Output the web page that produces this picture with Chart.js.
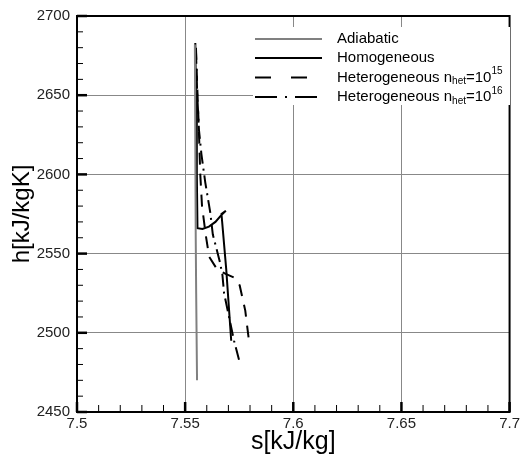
<!DOCTYPE html>
<html>
<head>
<meta charset="utf-8">
<script src="https://cdn.jsdelivr.net/npm/chart.js@4.4.0/dist/chart.umd.min.js"></script>
<style>
  body { margin: 0; background: #fff; }
  canvas { display: block; }
</style>
</head>
<body>
<canvas id="hsChart" width="523" height="457"></canvas>
<script>
// axis ticks
const xTicks = [7.5, 7.55, 7.6, 7.65, 7.7];
const xTickLabels = ['7.5', '7.55', '7.6', '7.65', '7.7'];
const yTicks = [2450, 2500, 2550, 2600, 2650, 2700];
const yTickLabels = ['2450', '2500', '2550', '2600', '2650', '2700'];

// series names (_{} = subscript, ^{} = superscript)
const seriesNames = [
  'Adiabatic',
  'Homogeneous',
  'Heterogeneous n_{het}=10^{15}',
  'Heterogeneous n_{het}=10^{16}'
];

// s [kJ/kg] and h values
const sAdiabatic = [7.5545, 7.5549, 7.5551, 7.5555];
const hAdiabatic = [2682, 2560, 2525, 2470];

const sHomogeneous = [7.5547, 7.5551, 7.5554, 7.5557, 7.5580, 7.5610, 7.5640, 7.5665, 7.5688, 7.5668, 7.5690, 7.5713];
const hHomogeneous = [2683, 2640, 2600, 2566, 2565.5, 2567, 2570, 2574, 2577, 2575, 2540, 2495];

const sHet15 = [7.5550, 7.5556, 7.5563, 7.5570, 7.5578, 7.5595, 7.5611, 7.5648, 7.5690, 7.5725, 7.5752, 7.5778, 7.5795];
const hHet15 = [2680, 2655, 2630, 2600, 2580, 2562, 2548, 2540, 2537, 2535, 2530, 2514, 2495];

const sHet16 = [7.5550, 7.5556, 7.5564, 7.5575, 7.5593, 7.5616, 7.5628, 7.5645, 7.5660, 7.5672, 7.5680, 7.5726, 7.5749];
const hHet16 = [2678, 2650, 2628, 2613, 2595, 2576, 2562, 2553, 2545, 2537, 2525, 2495, 2483];

const fontFamily = '"Liberation Sans", Arial, sans-serif';

function toPoints(s, h) {
  return s.map((v, i) => ({ x: v, y: h[i] }));
}

function drawRich(ctx, text, x, y) {
  const parts = text.split(/(_\{[^}]*\}|\^\{[^}]*\})/).filter(p => p.length);
  ctx.textBaseline = 'middle';
  ctx.textAlign = 'left';
  let cx = x;
  parts.forEach(p => {
    let t = p, dy = 0, size = 15;
    if (p.startsWith('_{')) { t = p.slice(2, -1); dy = 4; size = 10; }
    else if (p.startsWith('^{')) { t = p.slice(2, -1); dy = -6; size = 10; }
    ctx.font = size + 'px ' + fontFamily;
    ctx.fillText(t, cx, y + dy);
    cx += ctx.measureText(t).width;
  });
}

const decorPlugin = {
  id: 'decor',
  afterDraw(chart) {
    const { ctx, chartArea: a, scales } = chart;
    const xs = scales.x, ys = scales.y;
    ctx.save();
    ctx.strokeStyle = '#000';

    // minor and major ticks, pointing inward
    for (let i = 0; i <= 20; i++) {
      const px = xs.getPixelForValue(xs.min + i * 0.01);
      const major = i % 5 === 0;
      ctx.lineWidth = major ? 2.5 : 1;
      ctx.beginPath();
      ctx.moveTo(px, a.bottom);
      ctx.lineTo(px, a.bottom - (major ? 10 : 7));
      ctx.stroke();
    }
    for (let i = 0; i <= 25; i++) {
      const py = ys.getPixelForValue(ys.min + i * 10);
      const major = i % 5 === 0;
      ctx.lineWidth = major ? 2.5 : 1;
      ctx.beginPath();
      ctx.moveTo(a.left, py);
      ctx.lineTo(a.left + (major ? 10 : 6), py);
      ctx.stroke();
    }

    // frame
    ctx.lineWidth = 2;
    ctx.strokeRect(a.left, a.top, a.right - a.left, a.bottom - a.top);

    // legend box
    ctx.fillStyle = '#fff';
    ctx.fillRect(a.left + 176, a.top + 11, 257, 78);
    const rows = [39, 58, 77.5, 97];
    chart.data.datasets.forEach((ds, i) => {
      const ly = rows[i];
      ctx.strokeStyle = ds.borderColor;
      ctx.lineWidth = 2;
      ctx.setLineDash(i === 2 ? [16, 20] : (i === 3 ? [22, 8, 2, 8] : []));
      ctx.beginPath();
      ctx.moveTo(255, ly);
      ctx.lineTo(322, ly);
      ctx.stroke();
      ctx.setLineDash([]);
      ctx.fillStyle = '#000';
      drawRich(ctx, ds.label, 337, ly);
    });
    ctx.restore();
  }
};

const ctx = document.getElementById('hsChart').getContext('2d');
new Chart(ctx, {
  type: 'line',
  data: {
    datasets: [
      {
        label: seriesNames[0],
        data: toPoints(sAdiabatic, hAdiabatic),
        borderColor: '#808080',
        borderWidth: 2
      },
      {
        label: seriesNames[1],
        data: toPoints(sHomogeneous, hHomogeneous),
        borderColor: '#000',
        borderWidth: 2
      },
      {
        label: seriesNames[2],
        data: toPoints(sHet15, hHet15),
        borderColor: '#000',
        borderWidth: 2,
        borderDash: [12, 9]
      },
      {
        label: seriesNames[3],
        data: toPoints(sHet16, hHet16),
        borderColor: '#000',
        borderWidth: 2,
        borderDash: [13, 5, 2, 5]
      }
    ]
  },
  options: {
    responsive: false,
    animation: false,
    parsing: false,
    layout: { padding: { top: 14, right: 11, left: 0, bottom: 0 } },
    elements: { point: { radius: 0 }, line: { tension: 0, fill: false } },
    plugins: { legend: { display: false }, tooltip: { enabled: false } },
    scales: {
      x: {
        type: 'linear',
        min: 7.5,
        max: 7.7,
        afterBuildTicks: scale => { scale.ticks = xTicks.map(v => ({ value: v })); },
        afterFit: scale => { scale.height = 45; },
        ticks: {
          padding: 3,
          color: '#222',
          font: { family: fontFamily, size: 15 },
          callback: (v) => xTickLabels[xTicks.indexOf(v)]
        },
        grid: { color: '#888', lineWidth: 1, drawTicks: false },
        border: { display: false },
        title: {
          display: true,
          text: 's[kJ/kg]',
          color: '#000',
          font: { family: fontFamily, size: 25 },
          padding: { top: 0, bottom: 0 }
        }
      },
      y: {
        type: 'linear',
        min: 2450,
        max: 2700,
        afterBuildTicks: scale => { scale.ticks = yTicks.map(v => ({ value: v })); },
        afterFit: scale => { scale.width = 77; },
        ticks: {
          padding: 7,
          color: '#222',
          font: { family: fontFamily, size: 15 },
          callback: (v) => yTickLabels[yTicks.indexOf(v)]
        },
        grid: { color: '#888', lineWidth: 1, drawTicks: false },
        border: { display: false },
        title: {
          display: true,
          text: 'h[kJ/kgK]',
          color: '#000',
          font: { family: fontFamily, size: 24 },
          padding: { top: 8, bottom: 0 }
        }
      }
    }
  },
  plugins: [decorPlugin]
});
</script>
</body>
</html>
